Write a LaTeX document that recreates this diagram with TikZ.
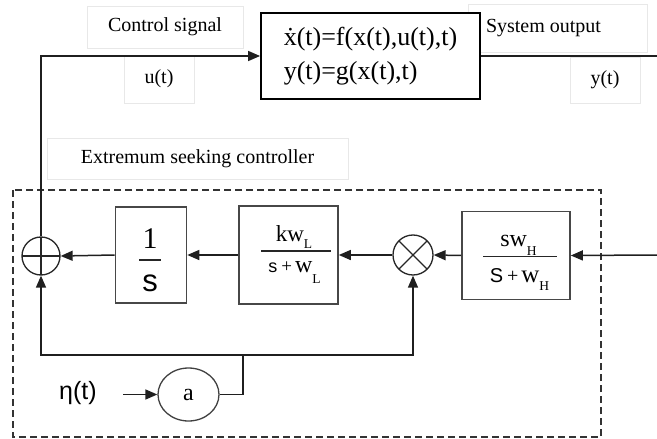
\documentclass[tikz,border=0pt]{standalone}
\usepackage{fontspec}
\setmainfont{Liberation Serif}
\newfontfamily\arialf{Liberation Sans}
\usetikzlibrary{arrows.meta,shapes.geometric}
\newcommand{\fs}[1]{\fontsize{#1}{#1}\selectfont}
\newcommand{\lowsub}[2]{\raisebox{-#1}{\fs{13.5}#2}}
\begin{document}
\begin{tikzpicture}[x=1pt,y=-1pt,
  wire/.style={line width=1.5pt, draw=black!88},
  arr/.style={wire, -{Triangle[length=12pt,width=10pt]}},
  blk/.style={draw=black!72, line width=1.6pt, rectangle, inner sep=0pt, fill=white},
  lbl/.style={draw=black!9, line width=0.9pt, rectangle, inner sep=0pt, font=\fs{20}},
  bar/.style={line width=1.4pt, draw=black!85},
  txt/.style={inner sep=0pt, anchor=base}]
\useasboundingbox (0,0) rectangle (657,439);

% light label frames
\node[lbl, minimum width=156, minimum height=42] (ctl) at (165,27) {Control signal};
\node[lbl, minimum width=70, minimum height=48] (ul) at (159,79) {u(t)};
\node[lbl, minimum width=179, minimum height=48] (sol) at (557.5,28) {\makebox[143pt][l]{System output}};
\node[lbl, minimum width=70, minimum height=46] (yl) at (605,80) {y(t)};
\node[lbl, minimum width=301, minimum height=41] (esc) at (197.5,158.5) {Extremum seeking controller};

% dashed controller frame
\draw[line width=1.3pt, draw=black!80, dash pattern=on 7pt off 4pt] (13,190) rectangle (601,437);

% plant
\node[blk, draw=black, line width=1.8pt, minimum width=219, minimum height=86, align=left,
      font=\fontsize{26}{34}\selectfont] (sys) at (370.5,56)
      {\.{x}(t)=f(x(t),u(t),t)\\y(t)=g(x(t),t)};

% blocks
\node[blk, minimum width=71, minimum height=96] (int) at (151,255) {};
\node[blk, minimum width=99, minimum height=98] (lpf) at (288.5,255) {};
\node[blk, minimum width=108, minimum height=88] (hpf) at (516,255.5) {};

% fraction texts
\node[txt] (intn) at (150,248) {\fs{30}1};
\draw[bar] (139,260) -- (161,260);
\node[txt] (intd) at (150,291) {\arialf\fs{31}s};

\node[txt] (lpfn) at (294,241) {\fs{23}kw\lowsub{7pt}{L}};
\draw[bar] (261,251) -- (331,251);
\node[txt] (lpfd) at (294.5,272) {{\arialf\fs{18}s}\hspace{4pt}{\fs{19}+}\hspace{3pt}{\fs{24}w}\lowsub{11pt}{L}};

\node[txt] (hpfn) at (518.5,246) {\fs{24}sw\lowsub{9pt}{H}};
\draw[bar] (483,256.5) -- (557,256.5);
\node[txt] (hpfd) at (519.5,282) {{\arialf\fs{20}S}\hspace{4pt}{\fs{20}+}\hspace{3pt}{\fs{25}w}\lowsub{8pt}{H}};

% summing and multiplying junctions
\node[circle, draw=black!85, line width=1.3pt, minimum size=38, inner sep=0pt,
  path picture={\draw[line width=1.2pt] (path picture bounding box.north) -- (path picture bounding box.south)
    (path picture bounding box.west) -- (path picture bounding box.east);}] (sum) at (41,256) {};
\node[circle, draw=black!85, line width=1.3pt, minimum size=40, inner sep=0pt,
  path picture={\draw[line width=1.2pt] (path picture bounding box.north west) -- (path picture bounding box.south east)
    (path picture bounding box.south west) -- (path picture bounding box.north east);}] (mult) at (413,255) {};

% dither
\node[ellipse, draw=black!75, line width=1.3pt, minimum width=61, minimum height=53, inner sep=0pt,
  font=\fs{24}] (amp) at (188.5,394.5) {a};
\node[inner sep=0pt, font=\arialf\fs{25}] (eta) at (78,393) {η(t)};

\coordinate (etain) at (123,394.5);
\coordinate (yin) at (657,255);
\coordinate (yout) at (657,56);
\coordinate (j) at (243,355);

% connectors
\draw[arr] (sum.north) |- (sys.west);
\draw[wire] (sys.east) -- (yout);
\draw[arr] (yin) -- (hpf.east);
\draw[arr] (hpf.west) -- (mult.east);
\draw[arr] (mult.west) -- (lpf.east);
\draw[arr] (lpf.west) -- (int.east);
\draw[arr] (int.west) -- (sum.east);
\draw[arr] (etain) -- (amp.west);
\draw[wire] (amp.east) -| (j);
\draw[arr] (j) -| (sum.south);
\draw[arr] (j) -| (mult.south);
\end{tikzpicture}
\end{document}
